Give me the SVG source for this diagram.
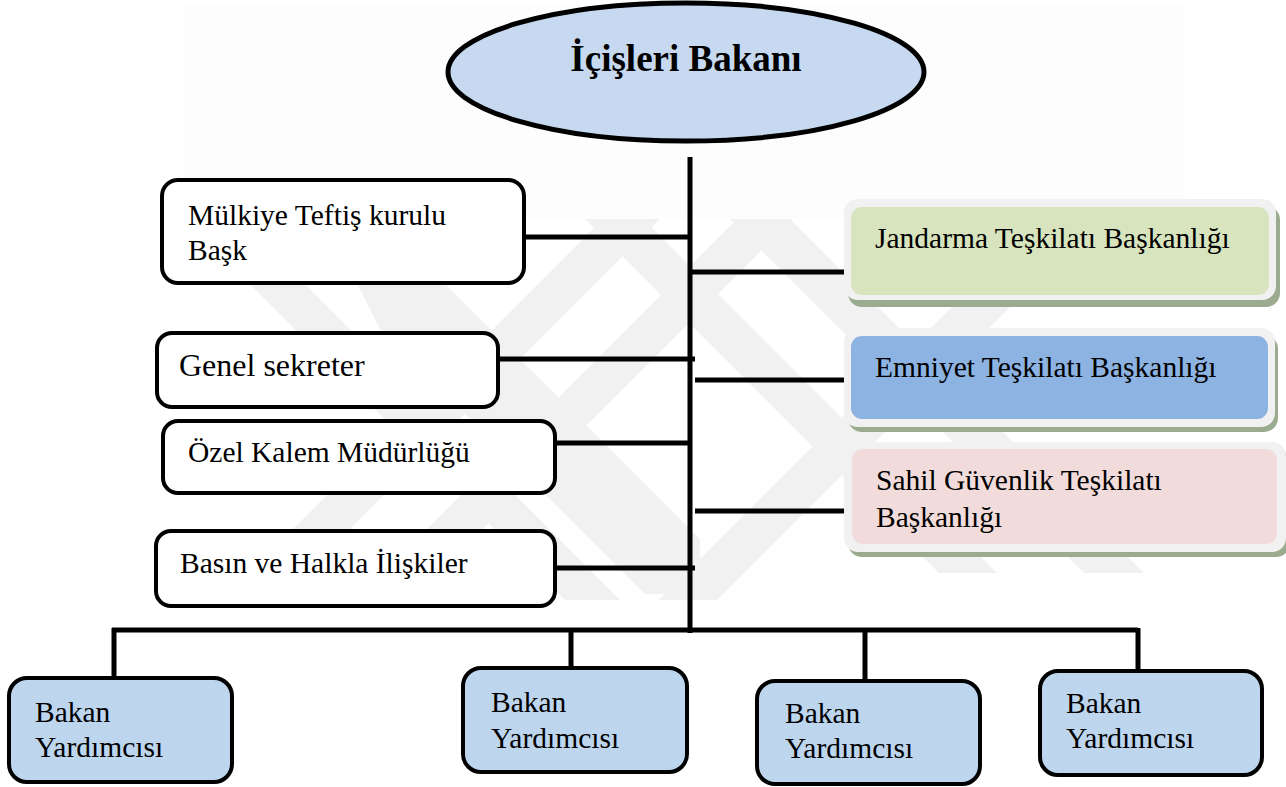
<svg xmlns="http://www.w3.org/2000/svg" width="1286" height="787" viewBox="0 0 1286 787">
<style>
text{font-family:"Liberation Serif","Times New Roman",serif;fill:#000;}
.t{font-size:29.5px;}
.wm{fill:#f1f1f1;}
.lb{fill:#ffffff;stroke:#000;stroke-width:4;}
.bk{fill:#bdd6ee;stroke:#000;stroke-width:4;}
.sh{fill:#9aab8f;}
.ob{fill:#f1f1f1;}
.ln{stroke:#000;stroke-width:5;fill:none;}
</style>
<rect x="0" y="0" width="1286" height="787" fill="#ffffff"/>
<g id="background">
<rect x="183" y="5" width="1002" height="214" fill="#fdfdfd"/>
<polygon class="wm" points="185,219 240,219 620,600 565,600"/>
<polygon class="wm" points="325,219 380,219 700,539 700,594 645,594 380,329"/>
<polygon class="wm" points="603,219 660,219 279,600 222,600"/>
<polygon class="wm" points="737,219 793,219 412,600 356,600"/>
<polygon class="wm" points="1040,219 1098,219 717,600 659,600"/>
<polygon class="wm" points="585,219 643,219 997,573 939,573"/>
<polygon class="wm" points="730,219 790,219 1144,573 1084,573"/>
</g>
<g id="connectors">
<line class="ln" x1="690" y1="157" x2="690" y2="633"/>
<line class="ln" x1="525" y1="237" x2="690" y2="237"/>
<line class="ln" x1="498" y1="359" x2="695" y2="359"/>
<line class="ln" x1="556" y1="443" x2="690" y2="443"/>
<line class="ln" x1="552" y1="568" x2="695" y2="568"/>
<line class="ln" x1="690" y1="272" x2="845" y2="272"/>
<line class="ln" x1="695" y1="380" x2="845" y2="380"/>
<line class="ln" x1="695" y1="511" x2="845" y2="511"/>
<line class="ln" x1="112" y1="630" x2="1138" y2="630"/>
<line class="ln" x1="114" y1="628" x2="114" y2="678"/>
<line class="ln" x1="571" y1="628" x2="571" y2="668"/>
<line class="ln" x1="865" y1="628" x2="865" y2="681"/>
<line class="ln" x1="1138" y1="628" x2="1138" y2="680" stroke-width="6"/>
</g>
<g id="minister">
<ellipse cx="686" cy="72" rx="238" ry="69" fill="#c6d9f0" stroke="#000" stroke-width="5"/>
<text x="686" y="71" text-anchor="middle" font-size="37" font-weight="bold">İçişleri Bakanı</text>
</g>
<g id="mulkiye">
<rect class="lb" x="162" y="180" width="362" height="103" rx="16"/>
<text class="t" x="188" y="225">Mülkiye Teftiş kurulu</text>
<text class="t" x="188" y="260">Başk</text>
</g>
<g id="genel">
<rect class="lb" x="157" y="333" width="341" height="74" rx="15"/>
<text x="179" y="376" font-size="32">Genel sekreter</text>
</g>
<g id="ozel">
<rect class="lb" x="163" y="421" width="392" height="72" rx="15"/>
<text class="t" x="188" y="462">Özel Kalem Müdürlüğü</text>
</g>
<g id="basin">
<rect class="lb" x="156" y="531" width="399" height="75" rx="15"/>
<text class="t" x="180" y="573">Basın ve Halkla İlişkiler</text>
</g>
<g id="jandarma">
<rect class="sh" x="848" y="206" width="432" height="101" rx="14"/>
<rect class="ob" x="844" y="199" width="432" height="101" rx="14"/>
<rect x="851" y="207" width="418" height="88" rx="11" fill="#d7e4bd"/>
<text class="t" x="875" y="248">Jandarma Teşkilatı Başkanlığı</text>
</g>
<g id="emniyet">
<rect class="sh" x="848" y="335" width="430" height="97" rx="14"/>
<rect class="ob" x="844" y="328" width="431" height="99" rx="14"/>
<rect x="851" y="336" width="417" height="83" rx="11" fill="#8db3e2"/>
<text class="t" x="875" y="377">Emniyet Teşkilatı Başkanlığı</text>
</g>
<g id="sahil">
<rect class="sh" x="848" y="449" width="442" height="108" rx="14"/>
<rect class="ob" x="844" y="442" width="442" height="110" rx="14"/>
<rect x="852" y="449" width="425" height="95" rx="11" fill="#f2dcdb"/>
<text class="t" x="876" y="490">Sahil Güvenlik Teşkilatı</text>
<text class="t" x="876" y="527">Başkanlığı</text>
</g>
<g id="yardimci1">
<rect class="bk" x="9" y="678" width="223" height="104" rx="18"/>
<text class="t" x="35" y="722">Bakan</text>
<text class="t" x="35" y="757">Yardımcısı</text>
</g>
<g id="yardimci2">
<rect class="bk" x="463" y="668" width="224" height="104" rx="18"/>
<text class="t" x="491" y="712">Bakan</text>
<text class="t" x="491" y="748">Yardımcısı</text>
</g>
<g id="yardimci3">
<rect class="bk" x="757" y="681" width="223" height="103" rx="18"/>
<text class="t" x="785" y="723">Bakan</text>
<text class="t" x="785" y="758">Yardımcısı</text>
</g>
<g id="yardimci4">
<rect class="bk" x="1040" y="671" width="222" height="104" rx="18"/>
<text class="t" x="1066" y="713">Bakan</text>
<text class="t" x="1066" y="748">Yardımcısı</text>
</g>
</svg>
